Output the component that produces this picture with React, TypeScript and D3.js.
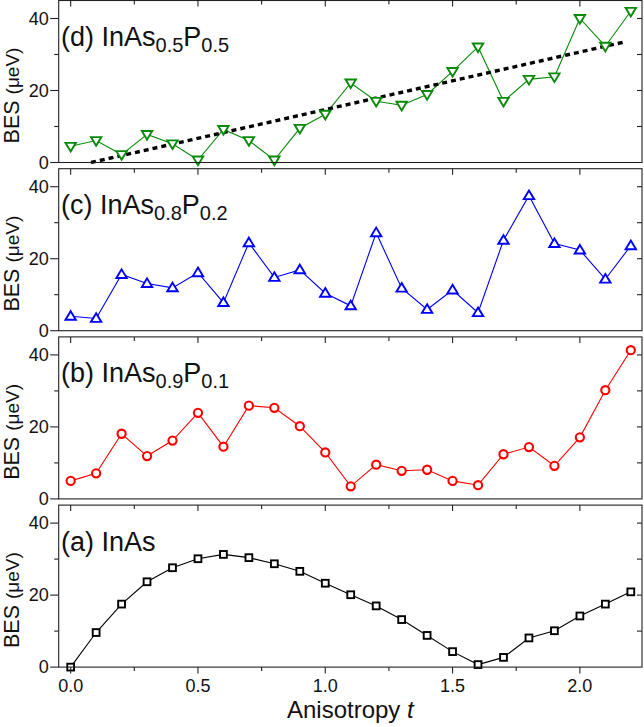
import React from "react";
import * as d3 from "d3";

const tValues = [0, 0.1, 0.2, 0.3, 0.4, 0.5, 0.6, 0.7, 0.8, 0.9, 1.0, 1.1, 1.2, 1.3, 1.4, 1.5, 1.6, 1.7, 1.8, 1.9, 2.0, 2.1, 2.2];

const besInAs05P05 = [4.5, 6.1, 2.2, 7.8, 5.2, 0.7, 9.2, 6.1, 0.7, 9.5, 13.4, 22.1, 17.0, 15.9, 18.9, 25.3, 32.1, 17.0, 23.1, 23.8, 40.0, 32.3, 42.0];
const besInAs08P02 = [4.0, 3.4, 15.6, 13.1, 11.9, 16.1, 7.8, 24.4, 14.8, 16.9, 10.4, 6.9, 27.2, 11.8, 5.9, 11.3, 5.0, 25.1, 37.5, 24.2, 22.4, 14.3, 23.6];
const besInAs09P01 = [5.0, 7.1, 18.1, 11.9, 16.2, 23.9, 14.5, 25.9, 25.3, 20.2, 12.9, 3.5, 9.5, 7.8, 8.1, 5.0, 3.8, 12.4, 14.4, 9.2, 17.1, 30.2, 41.3];
const besInAs = [0.0, 9.6, 17.5, 23.7, 27.6, 30.1, 31.3, 30.4, 28.7, 26.6, 23.3, 20.1, 17.0, 13.2, 8.8, 4.3, 0.7, 2.7, 8.1, 10.1, 14.2, 17.5, 20.9];

// linear fit line in panel (d): endpoints [t, value]
const fitT = [0.08, 2.17];
const fitV = [0.0, 33.4];

const xTickMajor = [0, 0.5, 1.0, 1.5, 2.0];
const xTickMinor = [0.25, 0.75, 1.25, 1.75];
const yTickMajor = [0, 20, 40];
const yTickMinor = [10, 30];

type Panel = {
  data: number[];
  color: string;
  marker: "down" | "up" | "circle" | "square";
  label: [string, string?, string?, string?];
};

const panels: Panel[] = [
  { data: besInAs05P05, color: "#0a8a0a", marker: "down", label: ["(d) InAs", "0.5", "P", "0.5"] },
  { data: besInAs08P02, color: "#0000ff", marker: "up", label: ["(c) InAs", "0.8", "P", "0.2"] },
  { data: besInAs09P01, color: "#ff0000", marker: "circle", label: ["(b) InAs", "0.9", "P", "0.1"] },
  { data: besInAs, color: "#000000", marker: "square", label: ["(a) InAs"] },
];

const W = 644;
const H = 727;
const LEFT = 58.7;
const RIGHT = 642;
const PANEL_H = 162;
const PANEL_STEP = 168.2;
const FONT = "'Liberation Sans', Arial, Helvetica, sans-serif";
const AXIS = "#222";

function Marker({ kind, x, y, color }: { kind: string; x: number; y: number; color: string }) {
  const sw = 1.9;
  if (kind === "circle") return <circle cx={x} cy={y} r={4.1} fill="white" stroke={color} strokeWidth={2.1} />;
  if (kind === "square") return <rect x={x - 3.4} y={y - 3.4} width={6.8} height={6.8} fill="white" stroke={color} strokeWidth={sw} />;
  const h = 8.6, w = 10.4;
  if (kind === "up") {
    const p = `M${x},${y - h * 0.6}L${x + w / 2},${y + h * 0.4}L${x - w / 2},${y + h * 0.4}Z`;
    return <path d={p} fill="white" stroke={color} strokeWidth={sw} strokeLinejoin="miter" />;
  }
  const p = `M${x},${y + h * 0.6}L${x + w / 2},${y - h * 0.4}L${x - w / 2},${y - h * 0.4}Z`;
  return <path d={p} fill="white" stroke={color} strokeWidth={sw} strokeLinejoin="miter" />;
}

export default function App() {
  const x = d3.scaleLinear().domain([-0.047, 2.244]).range([LEFT, RIGHT]);

  return (
    <svg width={W} height={H} style={{ position: "absolute", left: 0, top: 0, background: "white" }} fontFamily={FONT}>
      <rect x={0} y={0} width={W} height={H} fill="white" />
      {panels.map((p, i) => {
        const top = 0.5 + i * PANEL_STEP;
        const bottom = top + PANEL_H;
        const y = d3.scaleLinear().domain([0, 45]).range([bottom, top]);
        const line = d3
          .line<number>()
          .x((_, k) => x(tValues[k]))
          .y((v) => y(v));
        const isBottom = i === panels.length - 1;
        return (
          <g key={i}>
            <path d={line(p.data) || ""} fill="none" stroke={p.color} strokeWidth={1.1} />
            {i === 0 && (
              <line
                x1={x(fitT[0])}
                y1={y(fitV[0])}
                x2={x(fitT[1])}
                y2={y(fitV[1])}
                stroke="#000"
                strokeWidth={3.4}
                strokeDasharray="5,4"
              />
            )}
            {p.data.map((v, k) => (
              <Marker key={k} kind={p.marker} x={x(tValues[k])} y={y(v)} color={p.color} />
            ))}
            <rect x={LEFT} y={top} width={RIGHT - LEFT} height={PANEL_H} fill="none" stroke={AXIS} strokeWidth={1.1} />
            {yTickMajor.map((v) => (
              <g key={"ym" + v}>
                <line x1={LEFT - 8.5} x2={LEFT} y1={y(v)} y2={y(v)} stroke={AXIS} strokeWidth={1.1} />
                <text x={LEFT - 10} y={y(v)} dy="0.35em" textAnchor="end" fontSize={18} fill="#111">
                  {d3.format("d")(v)}
                </text>
              </g>
            ))}
            {yTickMinor.map((v) => (
              <line key={"yn" + v} x1={LEFT - 4.5} x2={LEFT} y1={y(v)} y2={y(v)} stroke={AXIS} strokeWidth={1.1} />
            ))}
            {[...yTickMajor, ...yTickMinor].filter((v) => v > 0).map((v) => (
              <line key={"yr" + v} x1={RIGHT - 5} x2={RIGHT} y1={y(v)} y2={y(v)} stroke={AXIS} strokeWidth={1.1} />
            ))}
            {xTickMajor.map((t) => (
              <line key={"tt" + t} x1={x(t)} x2={x(t)} y1={top} y2={top + 6} stroke={AXIS} strokeWidth={1.1} />
            ))}
            {xTickMinor.map((t) => (
              <line key={"tn" + t} x1={x(t)} x2={x(t)} y1={top} y2={top + 4} stroke={AXIS} strokeWidth={1.1} />
            ))}
            {isBottom && (
              <g>
                {xTickMajor.map((t) => (
                  <g key={"bm" + t}>
                    <line x1={x(t)} x2={x(t)} y1={bottom} y2={bottom + 6.5} stroke={AXIS} strokeWidth={1.1} />
                    <text x={x(t)} y={691.5} textAnchor="middle" fontSize={18} fill="#111">
                      {d3.format(".1f")(t)}
                    </text>
                  </g>
                ))}
                {xTickMinor.map((t) => (
                  <line key={"bn" + t} x1={x(t)} x2={x(t)} y1={bottom} y2={bottom + 4} stroke={AXIS} strokeWidth={1.1} />
                ))}
              </g>
            )}
            <text
              transform={`translate(18.5,${top + 95}) rotate(-90)`}
              textAnchor="middle"
              fontSize={21.5}
              fill="#111"
            >
              BES <tspan fontSize={19}>(μeV)</tspan>
            </text>
            <text x={61} y={top + 45.5} fontSize={27} fill="#111">
              {p.label[0]}
              {p.label[1] && (
                <tspan fontSize={20} dy={5.5}>
                  {p.label[1]}
                </tspan>
              )}
              {p.label[2] && (
                <tspan fontSize={27} dy={-5.5}>
                  {p.label[2]}
                </tspan>
              )}
              {p.label[3] && (
                <tspan fontSize={20} dy={5.5}>
                  {p.label[3]}
                </tspan>
              )}
            </text>
          </g>
        );
      })}
      <text x={(LEFT + RIGHT) / 2} y={718} textAnchor="middle" fontSize={24} fill="#111">
        Anisotropy <tspan fontStyle="italic">t</tspan>
      </text>
    </svg>
  );
}
